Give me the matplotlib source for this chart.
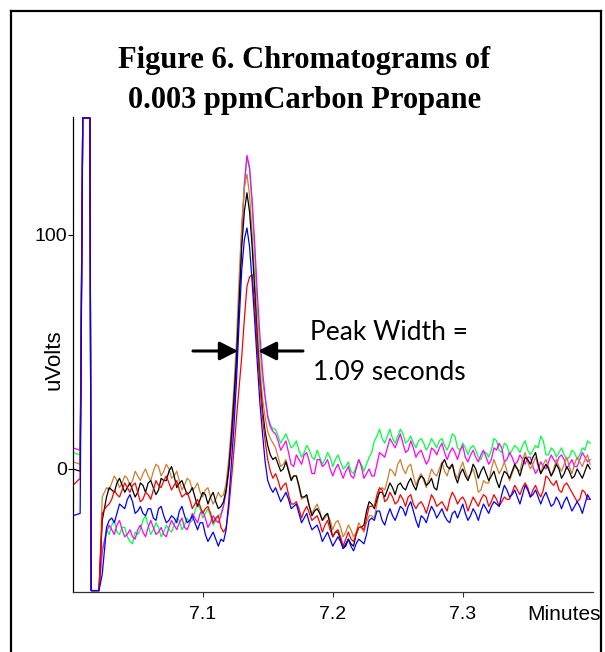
import numpy as np
import matplotlib
matplotlib.use("Agg")
import matplotlib.pyplot as plt
from matplotlib.lines import Line2D

# ---- sampling times (minutes) ----
pre_times = [7.000, 7.0055, 7.0075, 7.0130, 7.0140, 7.0200, 7.0225]
grid_start = 7.0258
grid_step = 0.002          # main samples every 0.004, mid samples in between
n_main = 94

# ---- series values (uVolts); spike near 7.01 is off-scale ----
green_pre = [7, 6, 150, 150, -52, -52, -35]
green = [-26, -24, -27, -25, -29, -32, -28, -22, -24, -26,
         -25, -27, -26, -24, -22, -24, -23, -18, -17, -19,
         -20, -22, -19, -8, 12, 45, 100, 133, 112, 68,
         38, 23, 17, 14, 13, 12, 10, 8, 7, 8,
         4, 5, 4, 5, 4, 3, 1, -1, 1, 2,
         2, 7, 14, 13, 14, 13, 14, 15, 12, 11,
         12, 11, 10, 11, 12, 10, 11, 14, 8, 9,
         9, 8, 4, 7, 8, 12, 7, 10, 8, 9,
         10, 8, 8, 9, 12, 6, 8, 7, 6, 5,
         7, 6, 8, 11]
green_mid = [-28, -22, -28, -25, -31, -27, -26, -20, -28, -23,
             -29, -24, -27, -21, -26, -21, -22, -15, -21, -17,
             -24, -20, -15, 1, 27, 72, 122, 128, 92, 52,
             30, 19, 17, 11, 15, 9, 12, 5, 10, 5,
             8, 2, 7, 1, 6, 0, 3, -2, 4, -1,
             5, 12, 17, 11, 17, 11, 17, 11, 14, 9,
             13, 8, 13, 9, 13, 8, 15, 9, 11, 6,
             10, 5, 7, 5, 13, 8, 11, 6, 10, 7,
             12, 6, 10, 14, 6, 9, 5, 9, 4, 8,
             4, 9, 12]

magenta_pre = [9, 8, 150, 150, -52, -52, -35]
magenta = [-27, -26, -24, -26, -28, -29, -26, -27, -25, -25,
           -27, -28, -25, -24, -23, -25, -23, -21, -19, -21,
           -23, -22, -20, -10, 10, 44, 100, 134, 115, 75,
           42, 22, 16, 12, 10, 7, 1, 4, 6, 3,
           -2, 4, 2, 0, 0, -1, -1, -3, 0, 1,
           -2, -3, 2, 6, 9, 11, 12, 11, 8, 9,
           7, 5, 4, 8, 9, 7, 7, 7, 8, 5,
           6, 5, 6, 5, 4, 8, 9, 4, 5, 3,
           4, 5, 1, 0, 1, 3, 4, 5, 4, 2,
           1, 4, 5, 4]
magenta_mid = [-24, -28, -22, -29, -26, -30, -24, -29, -22, -28,
               -25, -29, -22, -26, -21, -26, -19, -23, -18, -25,
               -20, -23, -16, -1, 25, 70, 121, 129, 96, 57,
               31, 18, 15, 8, 12, 2, 6, 2, 7, -2,
               4, 1, 4, -3, 2, -4, 1, -4, 4, -4,
               0, -3, 7, 5, 13, 9, 15, 7, 12, 5,
               8, 2, 9, 6, 11, 4, 9, 4, 10, 3,
               8, 3, 8, 2, 9, 11, 3, 7, 2, 6,
               2, 5, -2, 3, 0, 6, 2, 6, 0, 4,
               1, 7, 3]

orange_pre = [3, 2, 150, 150, -52, -52, -12]
orange = [-8, -6, -5, -6, -4, -5, -3, -2, -3, -1,
          1, -1, 0, -3, -5, -7, -5, -8, -10, -9,
          -12, -13, -12, -6, 18, 55, 105, 126, 100, 60,
          30, 16, 11, 5, 2, 0, -3, -8, -12, -16,
          -17, -18, -21, -22, -23, -25, -27, -26, -27, -25,
          -23, -20, -15, -8, -5, -1, 2, 0, 1, -3,
          -4, -5, -4, -2, 0, -1, 1, -2, 0, -1,
          -2, -4, -9, -6, 0, 1, 0, -1, -2, 0,
          4, 3, 2, 1, 2, 1, 0, 1, 2, 1,
          2, 3, 4, 2]
orange_mid = [-9, -3, -8, -3, -7, -1, -5, 0, -5, 2,
              -3, 2, -4, -1, -9, -4, -9, -6, -12, -8,
              -15, -10, -11, 4, 35, 82, 120, 117, 80, 43,
              22, 13, 9, 1, 4, -4, -3, -13, -12, -19,
              -15, -22, -19, -26, -22, -29, -24, -29, -23, -27,
              -20, -21, -9, -9, 0, -3, 4, -2, 2, -7,
              -2, -8, 0, -3, 3, -3, 2, -4, 3, -4,
              0, -10, -5, -6, 4, -2, 3, -5, 1, -1,
              7, 0, 5, -2, 4, -3, 4, -1, 5, -2,
              5, 1, 6]

black_pre = [0, -1, 150, 150, -52, -52, -22]
black = [-12, -9, -6, -7, -8, -9, -10, -7, -6, -8,
         -9, -5, -1, -3, -6, -8, -10, -12, -13, -11,
         -12, -14, -16, -9, 14, 48, 95, 118, 95, 55,
         25, 10, 4, 2, 0, -1, -3, -7, -12, -16,
         -18, -19, -20, -24, -27, -30, -33, -32, -28, -25,
         -18, -15, -13, -10, -9, -8, -7, -8, -6, -7,
         -5, -4, -6, -8, -3, 4, 0, -3, -2, -3,
         -2, 0, -1, -2, -3, -5, -4, -2, -1, 0,
         1, 4, 5, 2, 0, 0, -1, 0, -2, -1,
         -3, -2, -1, 0]
black_mid = [-8, -10, -4, -10, -6, -12, -6, -10, -5, -11,
             -4, -5, 1, -8, -5, -11, -8, -16, -10, -15,
             -10, -17, -14, 0, 30, 72, 110, 110, 76, 38,
             16, 6, 5, -1, 3, -5, -3, -12, -11, -20,
             -17, -22, -19, -29, -27, -34, -30, -33, -25, -24,
             -14, -17, -10, -12, -6, -11, -6, -9, -4, -9,
             -3, -7, -4, -9, 2, 1, 2, -6, 0, -5,
             2, -4, 1, -5, -1, -8, -1, -4, 2, -3,
             5, 2, 7, -2, 2, -3, 2, -4, 1, -4,
             0, -4, 2]

red_pre = [-7, -4, 150, 150, -52, -52, -19]
red = [-16, -13, -11, -9, -8, -7, -10, -13, -11, -9,
       -7, -5, -6, -7, -9, -11, -13, -15, -16, -17,
       -19, -21, -25, -25, -5, 22, 48, 78, 83, 52,
       22, 4, -4, -5, -7, -11, -15, -17, -18, -19,
       -21, -23, -24, -26, -27, -29, -30, -30, -28, -25,
       -21, -16, -11, -9, -13, -12, -14, -13, -12, -15,
       -15, -16, -15, -13, -15, -16, -13, -12, -13, -14,
       -15, -14, -13, -12, -14, -13, -14, -13, -10, -9,
       -8, -8, -9, -10, -9, -4, -7, -9, -7, -8,
       -12, -13, -10, -13]
red_mid = [-15, -9, -12, -6, -10, -6, -14, -10, -13, -5,
           -8, -3, -9, -5, -12, -10, -17, -13, -19, -16,
           -23, -20, -27, -17, 8, 35, 64, 82, 70, 37,
           12, -1, -2, -9, -6, -15, -14, -21, -16, -22,
           -20, -27, -22, -29, -26, -33, -27, -31, -25, -26,
           -16, -16, -8, -14, -10, -15, -11, -16, -11, -17,
           -14, -19, -11, -16, -14, -18, -10, -15, -12, -18,
           -12, -16, -11, -16, -11, -16, -12, -13, -7, -11,
           -6, -12, -7, -12, -3, -6, -5, -10, -6, -10,
           -14, -9, -13]

blue_pre = [-20, -19, 150, 150, -52, -52, -45]
blue = [-25, -21, -19, -16, -13, -14, -18, -19, -17, -21,
        -17, -20, -22, -21, -18, -20, -22, -23, -23, -28,
        -29, -30, -30, -26, 2, 38, 85, 103, 80, 45,
        15, -5, -10, -11, -12, -13, -16, -19, -21, -23,
        -25, -27, -29, -30, -31, -31, -32, -33, -32, -31,
        -28, -21, -18, -22, -20, -20, -19, -17, -16, -18,
        -25, -21, -19, -18, -19, -20, -23, -18, -18, -19,
        -20, -19, -18, -17, -16, -15, -11, -9, -11, -12,
        -11, -9, -11, -12, -12, -13, -15, -14, -14, -15,
        -16, -16, -15, -13]
blue_mid = [-22, -23, -15, -17, -11, -19, -16, -20, -17, -22,
            -16, -23, -20, -23, -16, -23, -20, -26, -23, -31,
            -27, -33, -31, -14, 18, 63, 98, 95, 63, 28,
            3, -8, -8, -14, -10, -17, -15, -23, -19, -26,
            -24, -31, -27, -33, -29, -34, -30, -35, -30, -32,
            -22, -22, -18, -24, -17, -22, -16, -20, -14, -22,
            -20, -23, -16, -21, -17, -22, -19, -21, -15, -22,
            -17, -22, -15, -19, -14, -16, -7, -12, -9, -15,
            -7, -12, -9, -15, -10, -16, -12, -17, -12, -18,
            -14, -19, -11]

x_ticks = [7.1, 7.2, 7.3]
y_ticks = [0, 100]


def assemble(pre, main, mid):
    grid = np.empty(2 * len(main) - 1)
    grid[0::2] = main
    grid[1::2] = mid
    return np.concatenate([pre, grid])


n_grid = 2 * n_main - 1
times = np.concatenate([pre_times, grid_start + grid_step * np.arange(n_grid)])

series = [
    (assemble(green_pre, green, green_mid), "#00ff40"),
    (assemble(magenta_pre, magenta, magenta_mid), "#ff00ff"),
    (assemble(orange_pre, orange, orange_mid), "#cd7f32"),
    (assemble(black_pre, black, black_mid), "#000000"),
    (assemble(red_pre, red, red_mid), "#ff0000"),
    (assemble(blue_pre, blue, blue_mid), "#0000ff"),
]

fig = plt.figure(figsize=(6.05, 6.52), dpi=100)
W, H = 605, 652

# outer frame (open at bottom)
fx0, fx1, fy1 = 11 / W, 601 / W, 1 - 11 / H
for xs, ys in [([fx0, fx0], [-0.01, fy1]), ([fx0, fx1], [fy1, fy1]), ([fx1, fx1], [fy1, -0.01])]:
    fig.add_artist(Line2D(xs, ys, transform=fig.transFigure, color="black", lw=1.6))

ax = fig.add_axes([73 / W, 1 - 592 / H, 520 / W, 475 / H])
for vals, col in series:
    ax.plot(times, vals, color=col, lw=0.9)

ax.set_xlim(7.0, 7.4)
ax.set_ylim(-52.6, 150.4)
ax.set_xticks(x_ticks)
ax.set_xticklabels([f"{t:.1f}" for t in x_ticks])
ax.set_yticks(y_ticks)
ax.set_yticklabels([str(v) for v in y_ticks])
for s in ["top", "right"]:
    ax.spines[s].set_visible(False)
ax.spines["left"].set_linewidth(0.9)
ax.spines["bottom"].set_linewidth(0.9)
ax.spines["bottom"].set_color("#333333")
ax.tick_params(axis="both", direction="out", length=3.8, width=0.8,
               labelsize=14, pad=0.5)
ax.tick_params(axis="x", pad=6.5, color="#333333")
for lab in ax.get_xticklabels() + ax.get_yticklabels():
    lab.set_fontfamily("Liberation Sans")

ax.set_ylabel("uVolts", fontsize=16, family="Liberation Sans", labelpad=0)
ax.yaxis.set_label_coords(-0.017, 0.49)

ax.annotate("Minutes", xy=(1, 0), xycoords="axes fraction",
            xytext=(5.5, -16.0), textcoords="offset points",
            ha="right", va="center", fontsize=15, family="Liberation Sans")

# title
fig.text(0.503, 1 - 68 / H, "Figure 6. Chromatograms of", ha="center",
         va="baseline", fontsize=22, fontweight="bold", family="Liberation Serif")
fig.text(0.503, 1 - 108 / H, "0.003 ppmCarbon Propane", ha="center",
         va="baseline", fontsize=22, fontweight="bold", family="Liberation Serif")

# peak width annotation
arrow_y = 50.4
aprops = dict(arrowstyle="-|>,head_length=0.55,head_width=0.28", color="black",
              lw=2.2, mutation_scale=20, shrinkA=0, shrinkB=0)
ax.annotate("", xy=(7.1269, arrow_y), xytext=(7.0923, arrow_y), arrowprops=aprops)
ax.annotate("", xy=(7.1423, arrow_y), xytext=(7.1769, arrow_y), arrowprops=aprops)
ax.text(0.608, 0.547, "Peak Width =", transform=ax.transAxes, ha="center",
        va="center", fontsize=19, family="Lato")
ax.text(0.608, 0.463, "1.09 seconds", transform=ax.transAxes, ha="center",
        va="center", fontsize=19, family="Lato")

fig.savefig("out.png", dpi=100)
